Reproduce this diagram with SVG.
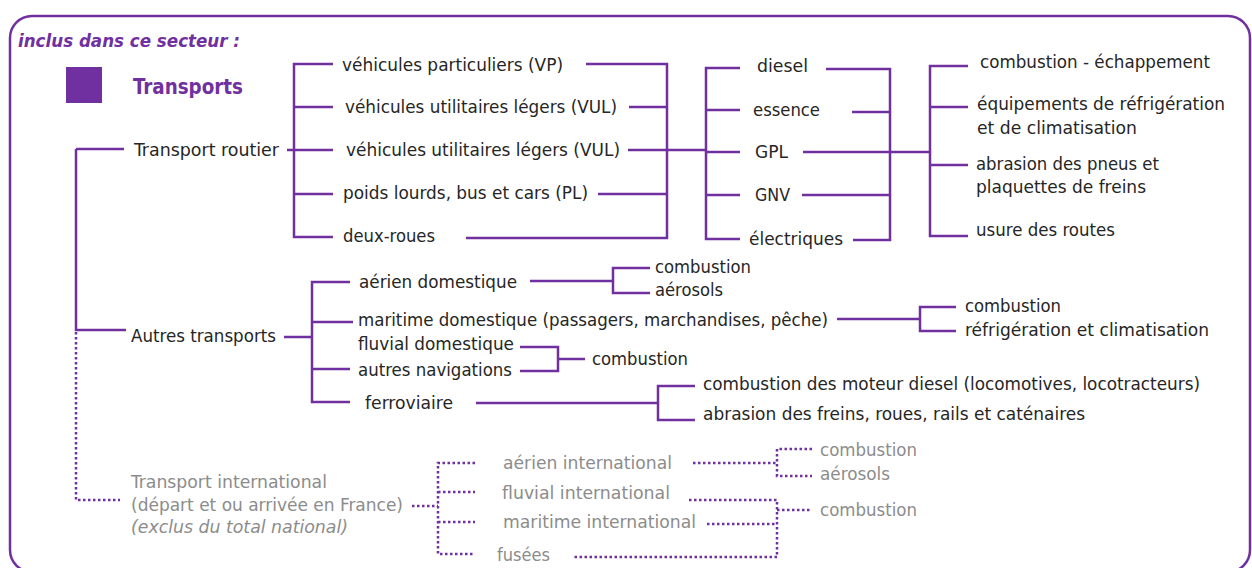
<svg xmlns="http://www.w3.org/2000/svg" width="1252" height="568" viewBox="0 0 1252 568">
<style>
text{font-family:"DejaVu Sans Condensed","DejaVu Sans","Liberation Sans",sans-serif;font-stretch:condensed;font-size:18px;fill:#262626}
.g{fill:#8c8c8c}
.ti{font-weight:bold;font-style:italic;fill:#7030a0}
.tb{font-weight:bold;font-size:22px;fill:#7030a0}
.it{font-style:italic}
.c{fill:none;stroke:#7030a0;stroke-width:2.5}
.d{fill:none;stroke:#7030a0;stroke-width:2.5;stroke-dasharray:2.5 2.5}
</style>
<rect x="10" y="16" width="1240" height="556" rx="22" fill="#fff" stroke="#7030a0" stroke-width="2.5"/>
<g id="header">
<text class="ti" x="18" y="47" textLength="222" lengthAdjust="spacingAndGlyphs">inclus dans ce secteur :</text>
<rect x="66" y="67" width="36" height="36" fill="#7030a0"/>
<text class="tb" x="133" y="94" textLength="110" lengthAdjust="spacingAndGlyphs">Transports</text>
</g>
<g id="connectors">
<path class="c" d="M76,149 H124 M76,149 V330 H126"/>
<path class="d" d="M76,332 V500 H120"/>
<path class="c" d="M287,150 H294 M333,64 H294 V237 H333 M294,107 H333 M294,150 H333 M294,194 H333"/>
<path class="c" d="M586,64 H667 V238 H466 M629,107 H667 M628,150 H706 M598,194 H667"/>
<path class="c" d="M740,68 H706 V239 H740 M706,110 H740 M706,152 H740 M706,195 H740"/>
<path class="c" d="M826,69 H890 V240 H853 M852,112 H890 M803,152 H930 M802,195 H890"/>
<path class="c" d="M968,66 H930 V236 H968 M930,107 H968 M930,165 H968"/>
<path class="c" d="M284,337 H312 M350,282 H312 V402 H350 M312,322 H353 M312,369 H350"/>
<path class="c" d="M530,281 H613 M650,268 H613 V293 H650"/>
<path class="c" d="M837,319 H920 M956,307 H920 V331 H956"/>
<path class="c" d="M520,347 H558 V371 H520 M558,359 H585"/>
<path class="c" d="M476,403 H658 M695,386 H658 V420 H695"/>
<path class="d" d="M412,506 H438 M475,463 H438 V554 H475 M438,492 H475 M438,522 H475"/>
<path class="d" d="M693,463 H777 M812,449 H777 V476 H812"/>
<path class="d" d="M689,500 H777 V557 H573 M707,524 H777 M777,510 H812"/>
</g>
<g id="routier"><text x="134" y="156" textLength="145" lengthAdjust="spacingAndGlyphs">Transport routier</text></g>
<g id="vp"><text x="342" y="71" textLength="221" lengthAdjust="spacingAndGlyphs">véhicules particuliers (VP)</text></g>
<g id="vul1"><text x="345" y="113" textLength="272" lengthAdjust="spacingAndGlyphs">véhicules utilitaires légers (VUL)</text></g>
<g id="vul2"><text x="346" y="156" textLength="274" lengthAdjust="spacingAndGlyphs">véhicules utilitaires légers (VUL)</text></g>
<g id="pl"><text x="343" y="199" textLength="245" lengthAdjust="spacingAndGlyphs">poids lourds, bus et cars (PL)</text></g>
<g id="deuxroues"><text x="343" y="242" textLength="92" lengthAdjust="spacingAndGlyphs">deux-roues</text></g>
<g id="diesel"><text x="757" y="72" textLength="51" lengthAdjust="spacingAndGlyphs">diesel</text></g>
<g id="essence"><text x="753" y="116" textLength="67" lengthAdjust="spacingAndGlyphs">essence</text></g>
<g id="gpl"><text x="755" y="158" textLength="33" lengthAdjust="spacingAndGlyphs">GPL</text></g>
<g id="gnv"><text x="755" y="201" textLength="35" lengthAdjust="spacingAndGlyphs">GNV</text></g>
<g id="electriques"><text x="749" y="245" textLength="94" lengthAdjust="spacingAndGlyphs">électriques</text></g>
<g id="echappement"><text x="980" y="68" textLength="230" lengthAdjust="spacingAndGlyphs">combustion - échappement</text></g>
<g id="refrig"><text x="977" y="110" textLength="248" lengthAdjust="spacingAndGlyphs">équipements de réfrigération</text><text x="977" y="134" textLength="160" lengthAdjust="spacingAndGlyphs">et de climatisation</text></g>
<g id="abrasion"><text x="976" y="170" textLength="183" lengthAdjust="spacingAndGlyphs">abrasion des pneus et</text><text x="976" y="193" textLength="170" lengthAdjust="spacingAndGlyphs">plaquettes de freins</text></g>
<g id="usure"><text x="976" y="236" textLength="139" lengthAdjust="spacingAndGlyphs">usure des routes</text></g>
<g id="autres"><text x="131" y="342" textLength="145" lengthAdjust="spacingAndGlyphs">Autres transports</text></g>
<g id="aerien-dom"><text x="359" y="288" textLength="158" lengthAdjust="spacingAndGlyphs">aérien domestique</text></g>
<g id="aerien-dom-out"><text x="655" y="273" textLength="96" lengthAdjust="spacingAndGlyphs">combustion</text><text x="655" y="296" textLength="68" lengthAdjust="spacingAndGlyphs">aérosols</text></g>
<g id="maritime-dom"><text x="358" y="326" textLength="470" lengthAdjust="spacingAndGlyphs">maritime domestique (passagers, marchandises, pêche)</text></g>
<g id="maritime-dom-out"><text x="965" y="312" textLength="96" lengthAdjust="spacingAndGlyphs">combustion</text><text x="965" y="336" textLength="244" lengthAdjust="spacingAndGlyphs">réfrigération et climatisation</text></g>
<g id="fluvial-dom"><text x="358" y="350" textLength="156" lengthAdjust="spacingAndGlyphs">fluvial domestique</text></g>
<g id="autres-nav"><text x="358" y="376" textLength="154" lengthAdjust="spacingAndGlyphs">autres navigations</text></g>
<g id="fluvial-out"><text x="592" y="365" textLength="96" lengthAdjust="spacingAndGlyphs">combustion</text></g>
<g id="ferroviaire"><text x="365" y="409" textLength="88" lengthAdjust="spacingAndGlyphs">ferroviaire</text></g>
<g id="ferroviaire-out"><text x="703" y="390" textLength="497" lengthAdjust="spacingAndGlyphs">combustion des moteur diesel (locomotives, locotracteurs)</text><text x="703" y="420" textLength="382" lengthAdjust="spacingAndGlyphs">abrasion des freins, roues, rails et caténaires</text></g>
<g id="international"><text class="g" x="131" y="488" textLength="196" lengthAdjust="spacingAndGlyphs">Transport international</text><text class="g" x="131" y="511" textLength="272" lengthAdjust="spacingAndGlyphs">(départ et ou arrivée en France)</text><text class="g it" x="131" y="533" textLength="217" lengthAdjust="spacingAndGlyphs">(exclus du total national)</text></g>
<g id="aerien-int"><text class="g" x="503" y="469" textLength="169" lengthAdjust="spacingAndGlyphs">aérien international</text></g>
<g id="fluvial-int"><text class="g" x="502" y="499" textLength="168" lengthAdjust="spacingAndGlyphs">fluvial international</text></g>
<g id="maritime-int"><text class="g" x="503" y="528" textLength="193" lengthAdjust="spacingAndGlyphs">maritime international</text></g>
<g id="fusees"><text class="g" x="497" y="561" textLength="53" lengthAdjust="spacingAndGlyphs">fusées</text></g>
<g id="aerien-int-out"><text class="g" x="820" y="456" textLength="97" lengthAdjust="spacingAndGlyphs">combustion</text><text class="g" x="820" y="480" textLength="70" lengthAdjust="spacingAndGlyphs">aérosols</text></g>
<g id="int-combustion"><text class="g" x="820" y="516" textLength="97" lengthAdjust="spacingAndGlyphs">combustion</text></g>
</svg>
